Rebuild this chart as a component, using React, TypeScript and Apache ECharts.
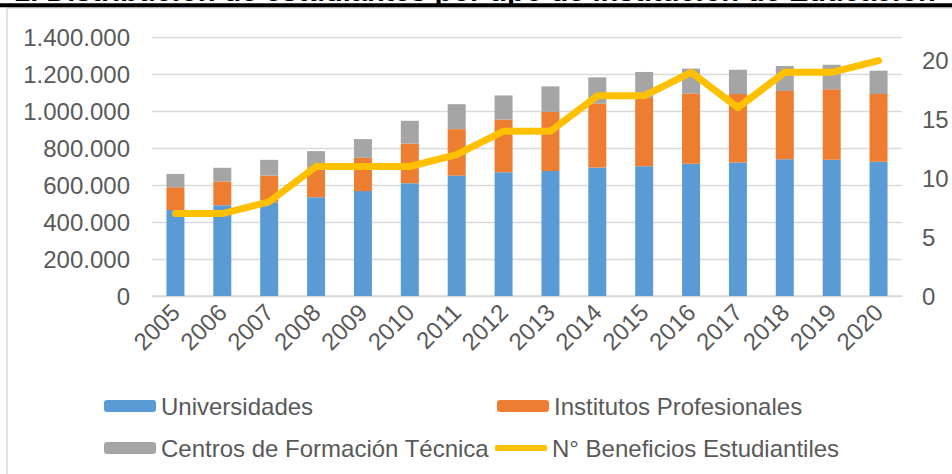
import React, { useEffect, useRef } from "react";
import * as echarts from "echarts";

const years = ["2005", "2006", "2007", "2008", "2009", "2010", "2011", "2012", "2013", "2014", "2015", "2016", "2017", "2018", "2019", "2020"];
const universidades = [465000, 491000, 505000, 534000, 567000, 610000, 651000, 669000, 676000, 694000, 701000, 715000, 721000, 739000, 737000, 726000];
const institutos = [123000, 128000, 146000, 161000, 180000, 214000, 251000, 285000, 319000, 346000, 369000, 379000, 371000, 369000, 380000, 366000];
const centros = [72000, 74000, 85000, 88000, 101000, 123000, 135000, 130000, 138000, 142000, 141000, 135000, 131000, 135000, 133000, 126000];
const beneficios = [7, 7, 8, 11, 11, 11, 12, 14, 14, 17, 17, 19, 16, 19, 19, 20];
const leftTicks = { min: 0, max: 1400000, interval: 200000 };
const rightTicks = { min: 0, max: 22, interval: 5 };

const titleText = "1. Distribución de estudiantes por tipo de institución de Educación";
const names = ["Universidades", "Institutos Profesionales", "Centros de Formación Técnica", "N° Beneficios Estudiantiles"];

const FONT = "'Liberation Sans', Arial, sans-serif";
const TXT = "#595959";

function fmt(v: number): string {
  return String(v).replace(/\B(?=(\d{3})+(?!\d))/g, ".");
}

export default function App() {
  const ref = useRef<HTMLDivElement>(null);
  useEffect(() => {
    document.body.style.margin = "0";
    if (!ref.current) return;
    const chart = echarts.init(ref.current, undefined, { renderer: "svg" });
    const legendBase = {
      orient: "horizontal" as const,
      padding: 0,
      itemWidth: 52,
      itemHeight: 12,
      textStyle: { fontFamily: FONT, fontSize: 24, color: TXT },
      selectedMode: false,
    };
    chart.setOption({
      animation: false,
      backgroundColor: "#ffffff",
      textStyle: { fontFamily: FONT },
      graphic: [
        {
          type: "rect",
          shape: { x: 7, y: 8, width: 1000, height: 500 },
          style: { fill: "none", stroke: "#D9D9D9", lineWidth: 1.5 },
          silent: true,
          z: -10,
        },
        {
          type: "text",
          x: 14,
          y: -9,
          style: {
            text: titleText,
            font: "bold 29px 'Liberation Sans', Arial, sans-serif",
            fill: "#000000",
            textVerticalAlign: "middle",
          },
          silent: true,
        },
        {
          type: "rect",
          shape: { x: 0, y: 3.3, width: 952, height: 4 },
          style: { fill: "#000000" },
          silent: true,
        },
      ],
      grid: { left: 152, right: 50, top: 37, bottom: 178, containLabel: false },
      legend: [
        { ...legendBase, data: [names[0]], left: 104, top: 394 },
        { ...legendBase, data: [names[1]], left: 497, top: 394 },
        { ...legendBase, data: [names[2]], left: 104, top: 436 },
        {
          ...legendBase,
          data: [{ name: names[3], icon: "roundRect", itemStyle: { color: "#FFC000" } }],
          itemHeight: 6,
          left: 495,
          top: 436,
        },
      ],
      xAxis: {
        type: "category",
        data: years,
        axisTick: { show: false },
        axisLine: { lineStyle: { color: "#D9D9D9", width: 1.5 } },
        axisLabel: { rotate: 45, fontSize: 24, color: TXT, margin: 12, fontFamily: FONT },
      },
      yAxis: [
        {
          type: "value",
          min: leftTicks.min,
          max: leftTicks.max,
          interval: leftTicks.interval,
          axisLine: { show: false },
          axisTick: { show: false },
          splitLine: { lineStyle: { color: "#D9D9D9", width: 1.3 } },
          axisLabel: { fontSize: 24, color: TXT, margin: 22, fontFamily: FONT, formatter: (v: number) => fmt(v) },
        },
        {
          type: "value",
          min: rightTicks.min,
          max: rightTicks.max,
          interval: rightTicks.interval,
          axisLine: { show: false },
          axisTick: { show: false },
          splitLine: { show: false },
          axisLabel: {
            fontSize: 24,
            color: TXT,
            margin: 20,
            fontFamily: FONT,
            formatter: (v: number) => (v % 5 === 0 ? String(v) : ""),
          },
        },
      ],
      series: [
        {
          name: names[0],
          type: "bar",
          stack: "total",
          data: universidades,
          barWidth: 18,
          itemStyle: { color: "#5B9BD5" },
        },
        {
          name: names[1],
          type: "bar",
          stack: "total",
          data: institutos,
          barWidth: 18,
          itemStyle: { color: "#ED7D31" },
        },
        {
          name: names[2],
          type: "bar",
          stack: "total",
          data: centros,
          barWidth: 18,
          itemStyle: { color: "#A5A5A5" },
        },
        {
          name: names[3],
          type: "line",
          yAxisIndex: 1,
          data: beneficios,
          symbol: "none",
          showSymbol: false,
          z: 5,
          itemStyle: { color: "#FFC000" },
          lineStyle: { color: "#FFC000", width: 7, cap: "round", join: "round" },
        },
      ],
    });
    return () => chart.dispose();
  }, []);
  return <div ref={ref} style={{ width: 952, height: 474, position: "absolute", left: 0, top: 0 }} />;
}
